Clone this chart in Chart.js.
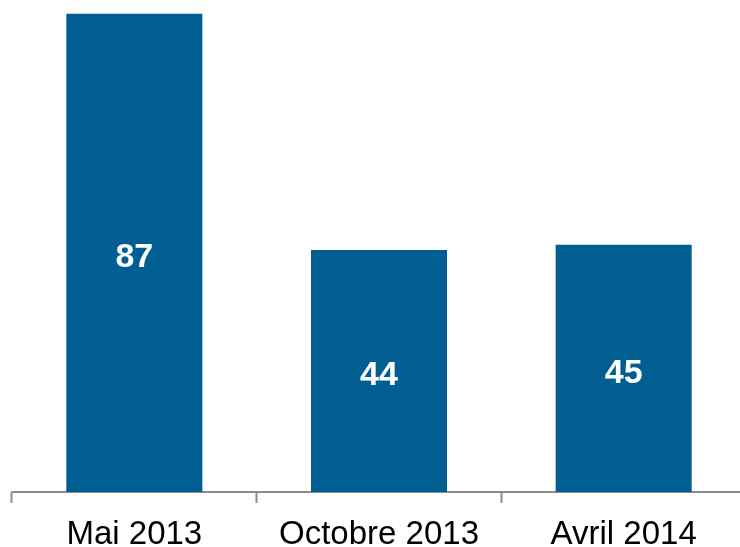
<!DOCTYPE html>
<html>
<head>
<meta charset="utf-8">
<script src="https://cdn.jsdelivr.net/npm/chart.js@4"></script>
<style>
  html, body { margin: 0; padding: 0; background: #ffffff; overflow: hidden; }
  #wrap { width: 746px; height: 547px; }
</style>
</head>
<body>
<div id="wrap"><canvas id="chart" width="746" height="547"></canvas></div>
<script>
const categories = ["Mai 2013", "Octobre 2013", "Avril 2014"];
const values = [87, 44, 45];

const barColor = "#005e93";

// white value labels drawn in the middle of each bar
const centerLabels = {
  id: "centerLabels",
  afterDatasetsDraw(chart) {
    const ctx = chart.ctx;
    const meta = chart.getDatasetMeta(0);
    ctx.save();
    ctx.fillStyle = "#ffffff";
    ctx.font = "bold 34px 'Liberation Sans', Arial, sans-serif";
    ctx.textAlign = "center";
    ctx.textBaseline = "middle";
    meta.data.forEach((bar, i) => {
      const mid = (bar.y + bar.base) / 2;
      ctx.fillText(String(values[i]), bar.x, mid + 5);
    });
    ctx.restore();
  },
};

new Chart(document.getElementById("chart"), {
  type: "bar",
  data: {
    labels: categories,
    datasets: [
      {
        data: values,
        backgroundColor: barColor,
        borderWidth: 0,
        categoryPercentage: 1,
        barPercentage: 0.556,
      },
    ],
  },
  options: {
    responsive: false,
    animation: false,
    layout: { padding: { left: 12, right: 0, top: 0, bottom: 0 } },
    plugins: {
      legend: { display: false },
      tooltip: { enabled: false },
    },
    scales: {
      x: {
        afterFit(scale) {
          scale.height = 55;
        },
        grid: {
          offset: true,
          drawOnChartArea: false,
          drawTicks: true,
          tickLength: 11,
          tickWidth: 2,
          tickColor: "#8c8c8c",
        },
        border: { display: true, color: "#8c8c8c", width: 2 },
        ticks: {
          color: "#000000",
          padding: 12,
          font: { family: "'Liberation Sans', Arial, sans-serif", size: 33 },
        },
      },
      y: {
        display: false,
        min: 0,
        max: 89.5,
      },
    },
  },
  plugins: [centerLabels],
});
</script>
</body>
</html>
